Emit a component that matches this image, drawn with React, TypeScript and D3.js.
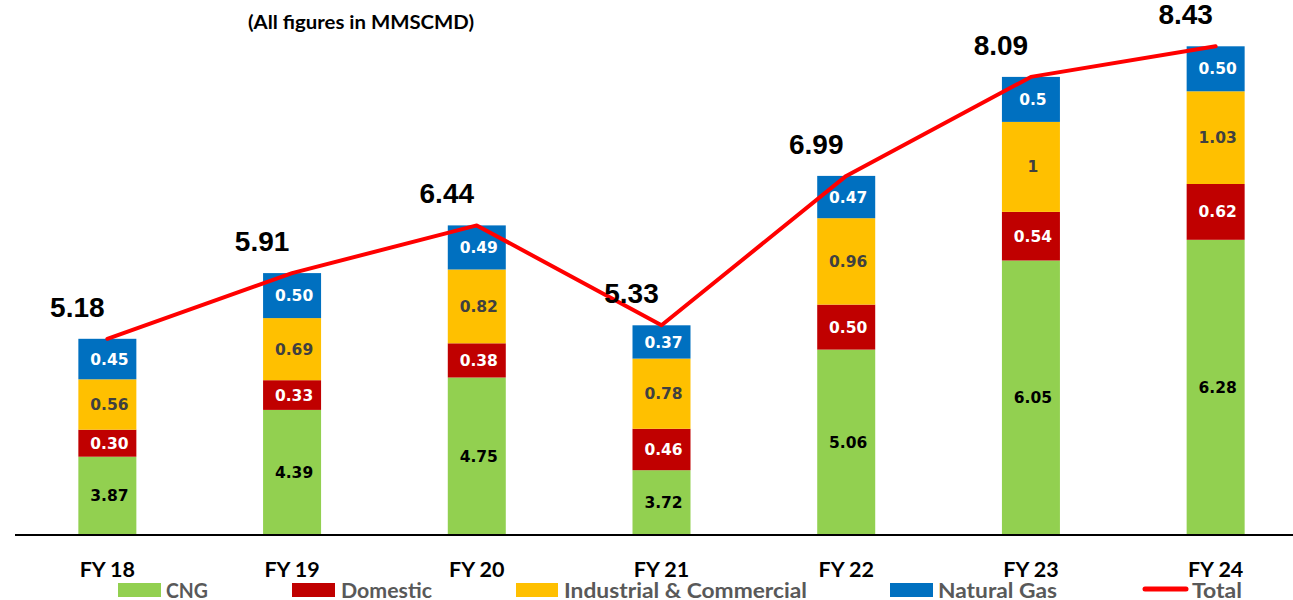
import React from "react";
import * as d3 from "d3";

const categories = ["FY 18", "FY 19", "FY 20", "FY 21", "FY 22", "FY 23", "FY 24"];
const cngLabels = ["3.87", "4.39", "4.75", "3.72", "5.06", "6.05", "6.28"];
const domesticLabels = ["0.30", "0.33", "0.38", "0.46", "0.50", "0.54", "0.62"];
const industrialLabels = ["0.56", "0.69", "0.82", "0.78", "0.96", "1", "1.03"];
const naturalGasLabels = ["0.45", "0.50", "0.49", "0.37", "0.47", "0.5", "0.50"];
const totals = [5.18, 5.91, 6.44, 5.33, 6.99, 8.09, 8.43];
const totalLabels = ["5.18", "5.91", "6.44", "5.33", "6.99", "8.09", "8.43"];

const seriesNames = ["CNG", "Domestic", "Industrial & Commercial", "Natural Gas"];
const seriesColors = ["#92D050", "#C00000", "#FFC000", "#0070C0"];
const seriesLabelColors = ["#000000", "#FFFFFF", "#404040", "#FFFFFF"];
const seriesLabels = [cngLabels, domesticLabels, industrialLabels, naturalGasLabels];

const W = 1293;
const H = 600;
const baseY = 535;
const calibri = "Lato, 'Open Sans', sans-serif";

export default function App() {
  const x = d3
    .scaleBand<string>()
    .domain(categories)
    .range([15, 1308])
    .paddingInner(0.686)
    .paddingOuter(0.343);
  const y = d3.scaleLinear().domain([3, 9]).range([baseY, baseY - 540]);

  const rows = categories.map((c, i) => {
    const r: any = { cat: c };
    seriesNames.forEach((s, k) => (r[s] = Number(seriesLabels[k][i])));
    return r;
  });
  const stacked = d3.stack<any>().keys(seriesNames)(rows);

  const line = d3
    .line<number>()
    .x((_, i) => (x(categories[i]) as number) + x.bandwidth() / 2)
    .y((d) => y(d));

  const legendItems = [
    { name: "CNG", sx: 118, sw: 43, tx: 166, tw: 42, type: "rect" },
    { name: "Domestic", sx: 292, sw: 43, tx: 341, tw: 91, type: "rect" },
    { name: "Industrial & Commercial", sx: 516, sw: 42, tx: 564, tw: 243, type: "rect" },
    { name: "Natural Gas", sx: 890, sw: 43, tx: 938, tw: 119, type: "rect" },
    { name: "Total", sx: 1143, sw: 45, tx: 1192, tw: 50, type: "line" },
  ];

  return (
    <svg
      width={W}
      height={H}
      style={{ position: "absolute", left: 0, top: 0, background: "#fff" }}
    >
      <text
        x={248}
        y={29}
        textLength={226}
        lengthAdjust="spacingAndGlyphs"
        fontFamily={calibri}
        fontWeight="bold"
        fontSize={18.5}
        fill="#000"
      >
        (All figures in MMSCMD)
      </text>

      {stacked.map((layer, k) => (
        <g key={layer.key}>
          {layer.map((d, i) => {
            const bx = x(categories[i]) as number;
            const y0 = y(Math.max(d[0], 3));
            const y1 = y(d[1]);
            return (
              <g key={i}>
                <rect
                  x={bx}
                  y={y1}
                  width={x.bandwidth()}
                  height={y0 - y1}
                  fill={seriesColors[k]}
                />
                <text
                  x={bx + x.bandwidth() / 2 + 2}
                  y={(y0 + y1) / 2}
                  dy="0.36em"
                  textAnchor="middle"
                  fontFamily="'DejaVu Sans', Verdana, sans-serif"
                  fontWeight="bold"
                  fontSize={15.5}
                  fill={seriesLabelColors[k]}
                >
                  {seriesLabels[k][i]}
                </text>
              </g>
            );
          })}
        </g>
      ))}

      <line x1={15} x2={1293} y1={baseY} y2={baseY} stroke="#000" strokeWidth={2} />

      <path
        d={line(totals) || ""}
        fill="none"
        stroke="#FF0000"
        strokeWidth={4}
        strokeLinejoin="round"
        strokeLinecap="round"
      />

      {totals.map((t, i) => (
        <text
          key={i}
          x={(x(categories[i]) as number) + x.bandwidth() / 2 - 30}
          y={y(t) - 22}
          textAnchor="middle"
          fontFamily="'Liberation Sans', Arial, sans-serif"
          fontWeight="bold"
          fontSize={28}
          fill="#000"
        >
          {totalLabels[i]}
        </text>
      ))}

      {categories.map((c) => (
        <text
          key={c}
          x={(x(c) as number) + x.bandwidth() / 2}
          y={577}
          textAnchor="middle"
          fontFamily={calibri}
          fontWeight="bold"
          fontSize={21.5}
          fill="#000"
        >
          {c}
        </text>
      ))}

      {legendItems.map((it, k) => (
        <g key={it.name}>
          {it.type === "rect" ? (
            <rect x={it.sx} y={583} width={it.sw} height={14} fill={seriesColors[k]} />
          ) : (
            <line
              x1={it.sx + 2}
              x2={it.sx + it.sw - 2}
              y1={589}
              y2={589}
              stroke="#FF0000"
              strokeWidth={5}
              strokeLinecap="round"
            />
          )}
          <text
            x={it.tx}
            y={597.5}
            textLength={it.tw}
            lengthAdjust="spacingAndGlyphs"
            fontFamily={calibri}
            fontWeight="bold"
            fontSize={20}
            fill="#595959"
          >
            {it.name}
          </text>
        </g>
      ))}
    </svg>
  );
}
